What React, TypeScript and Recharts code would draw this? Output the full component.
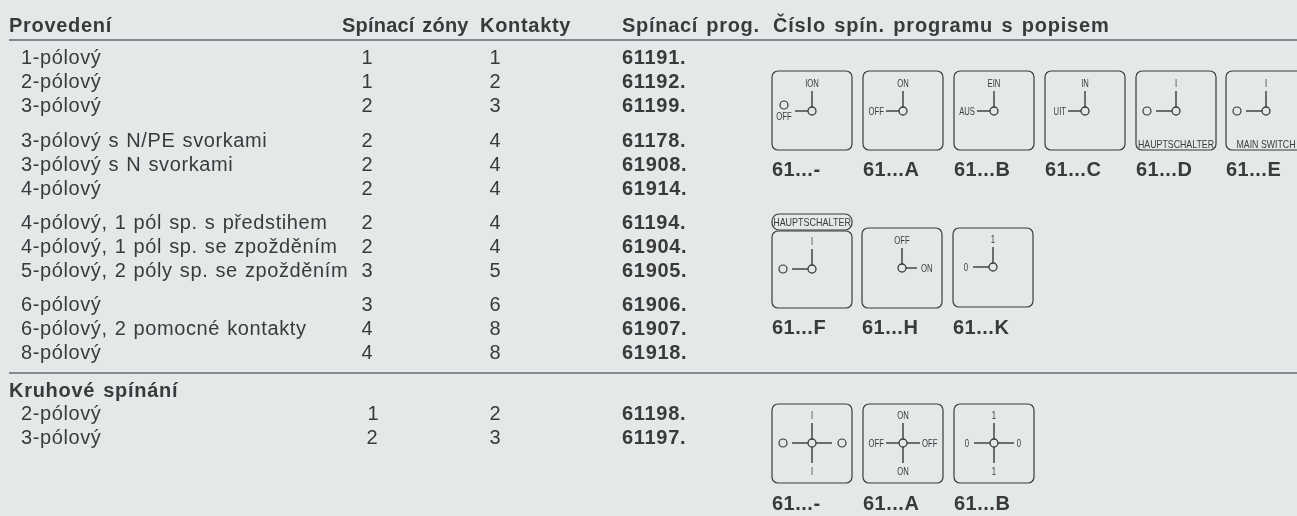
import React from "react";
import { ScatterChart, Scatter, XAxis, YAxis, ReferenceLine } from "recharts";

const W = 1297;
const H = 516;
const BG = "#e3e9e9";
const INK = "#3a3a3c";
const FONT = "'Liberation Sans', Arial, sans-serif";

const headers = ["Provedení", "Spínací zóny", "Kontakty", "Spínací prog.", "Číslo spín. programu s popisem"];
const headerX = [9, 342, 480, 622, 773];
const headerSpacing = [0.7, 0.2, 0.7, 0.7, 0.8];

const names = [
  "1-pólový", "2-pólový", "3-pólový",
  "3-pólový s N/PE svorkami", "3-pólový s N svorkami", "4-pólový",
  "4-pólový, 1 pól sp. s předstihem", "4-pólový, 1 pól sp. se zpožděním", "5-pólový, 2 póly sp. se zpožděním",
  "6-pólový", "6-pólový, 2 pomocné kontakty", "8-pólový",
  "2-pólový", "3-pólový",
];
const zones = [1, 1, 2, 2, 2, 2, 2, 2, 3, 3, 4, 4, 1, 2];
const contacts = [1, 2, 3, 4, 4, 4, 4, 4, 5, 6, 8, 8, 2, 3];
const programs = [
  "61191.", "61192.", "61199.", "61178.", "61908.", "61914.", "61194.",
  "61904.", "61905.", "61906.", "61907.", "61918.", "61198.", "61197.",
];
const rowLines = [57, 81, 105, 140, 164, 188, 222, 246, 270, 304, 328, 352, 413, 437];
const zoneColumn = [367, 367, 367, 367, 367, 367, 367, 367, 367, 367, 367, 367, 373, 372];

const captions = ["61...-", "61...A", "61...B", "61...C", "61...D", "61...E", "61...F", "61...H", "61...K", "61...-", "61...A", "61...B"];
const hubX = [812, 903, 994, 1085, 1176, 1266, 812, 902, 993, 812, 903, 994];
const hubY = [111, 111, 111, 111, 111, 111, 269, 268, 267, 443, 443, 443];
const boxTop = [71, 71, 71, 71, 71, 71, 231, 228, 228, 404, 404, 404];
const boxBottom = [150, 150, 150, 150, 150, 150, 308, 308, 307, 483, 483, 483];
const captionY = [169, 169, 169, 169, 169, 169, 327, 327, 327, 503, 503, 503];
const topLabels = ["ION", "ON", "EIN", "IN", "I", "I", "I", "OFF", "1", "I", "ON", "1"];
const leftLabels = ["OFF*", "OFF", "AUS", "UIT", "O", "O", "O", "", "0", "O", "OFF", "0"];
const rightLabels = ["", "", "", "", "", "", "", "ON", "", "O", "OFF", "0"];
const bottomLabels = ["", "", "", "", "", "", "", "", "", "I", "ON", "1"];
const footLabels = ["", "", "", "", "HAUPTSCHALTER", "MAIN SWITCH", "", "", "", "", "", ""];
const pillLabels = ["", "", "", "", "", "", "HAUPTSCHALTER", "", "", "", "", ""];

const headerData = headers.map((label, i) => ({ x: headerX[i], y: 25, label, spacing: headerSpacing[i] }));
const sectionData = [{ x: 9, y: 390, label: "Kruhové spínání" }];
const nameData = names.map((label, i) => ({ x: 21, y: rowLines[i], label }));
const zoneData = zones.map((v, i) => ({ x: zoneColumn[i], y: rowLines[i], label: String(v) }));
const contactData = contacts.map((v, i) => ({ x: 495, y: rowLines[i], label: String(v) }));
const programData = programs.map((label, i) => ({ x: 622, y: rowLines[i], label }));
const iconData = captions.map((caption, i) => ({
  x: hubX[i],
  y: hubY[i],
  caption,
  top: topLabels[i],
  left: leftLabels[i],
  right: rightLabels[i],
  bottom: bottomLabels[i],
  foot: footLabels[i],
  pill: pillLabels[i],
  boxTop: boxTop[i],
  boxBottom: boxBottom[i],
  captionY: captionY[i],
}));

const textShape = (size: number, weight: number, anchor: string, spacing: number, wordSpacing: number) => (p: any) => (
  <text
    x={p.cx}
    y={p.cy}
    dy="0.36em"
    textAnchor={anchor as any}
    fontFamily={FONT}
    fontSize={size}
    fontWeight={weight}
    letterSpacing={p.payload.spacing ?? spacing}
    wordSpacing={wordSpacing}
    fill={INK}
  >
    {p.payload.label}
  </text>
);

const tiny = (x: number, y: number, s: string, anchor = "middle", size = 11, sx = 0.7) => (
  <text
    transform={`translate(${x} ${y}) scale(${sx} 1)`}
    dy="0.36em"
    textAnchor={anchor as any}
    fontFamily={FONT}
    fontSize={size}
    fill={INK}
  >
    {s}
  </text>
);

const IconShape = (p: any) => {
  const d = p.payload;
  const { cx, cy } = p;
  const bx = cx - 40;
  const stroke = { stroke: INK, strokeWidth: 1.2, fill: "none" };
  const hw = 1.4;
  const cross = d.bottom !== "";
  const hasCircle = d.left === "O" || d.left === "OFF*";
  const isWord = d.left !== "" && !hasCircle && d.left !== "0";
  const leftEnd = d.left === "O" || d.left === "0" ? cx - 20 : cx - 17;
  return (
    <g>
      {d.pill ? (
        <g>
          <rect x={bx} y={d.boxTop - 17} width={80} height={16} rx={7} {...stroke} />
          {tiny(cx, d.boxTop - 9, d.pill, "middle", 10, 0.9)}
        </g>
      ) : null}
      <rect x={bx} y={d.boxTop} width={80} height={d.boxBottom - d.boxTop} rx={6} {...stroke} />
      <line x1={cx} y1={cy - 20} x2={cx} y2={cy} stroke={INK} strokeWidth={hw} />
      {d.left ? <line x1={leftEnd} y1={cy} x2={cx} y2={cy} stroke={INK} strokeWidth={hw} /> : null}
      {d.right ? <line x1={cx} y1={cy} x2={cx + (d.right === "ON" ? 15 : d.right === "OFF" ? 17 : 20)} y2={cy} stroke={INK} strokeWidth={hw} /> : null}
      {cross ? <line x1={cx} y1={cy} x2={cx} y2={cy + 20} stroke={INK} strokeWidth={hw} /> : null}
      <circle cx={cx} cy={cy} r={4} fill={BG} stroke={INK} strokeWidth={1.3} />
      {tiny(cx, cy - 28, d.top)}
      {d.left === "O" ? <circle cx={cx - 29} cy={cy} r={4} {...stroke} /> : null}
      {d.left === "OFF*" ? (
        <g>
          <circle cx={cx - 28} cy={cy - 6} r={4} {...stroke} />
          {tiny(cx - 28, cy + 5, "OFF")}
        </g>
      ) : null}
      {isWord ? tiny(cx - 19, cy, d.left, "end") : null}
      {d.left === "0" ? tiny(cx - 27, cy, d.left) : null}
      {d.right === "O" ? <circle cx={cx + 30} cy={cy} r={4} {...stroke} /> : null}
      {d.right === "ON" || d.right === "OFF" ? tiny(cx + 19, cy, d.right, "start") : null}
      {d.right === "0" ? tiny(cx + 25, cy, d.right) : null}
      {cross ? tiny(cx, cy + 28, d.bottom) : null}
      {d.foot ? tiny(cx, d.boxBottom - 6, d.foot, "middle", 10, 0.88) : null}
      <text x={bx} y={d.captionY} dy="0.36em" fontFamily={FONT} fontSize={20} fontWeight={700} letterSpacing={0.5} fill={INK}>
        {d.caption}
      </text>
    </g>
  );
};

export default function App() {
  return (
    <div style={{ position: "absolute", left: 0, top: 0, width: W, height: H, background: BG, overflow: "hidden" }}>
      <div style={{ filter: "blur(0.3px)" }}>
        <ScatterChart width={W} height={H} margin={{ top: 0, right: 0, bottom: 0, left: 0 }}>
          <XAxis type="number" dataKey="x" domain={[0, W]} hide allowDataOverflow />
          <YAxis type="number" dataKey="y" domain={[0, H]} reversed hide allowDataOverflow width={0} />
          <ReferenceLine segment={[{ x: 9, y: 40 }, { x: W, y: 40 }]} stroke="#666a6c" strokeWidth={1.5} />
          <ReferenceLine segment={[{ x: 9, y: 373 }, { x: W, y: 373 }]} stroke="#666a6c" strokeWidth={1.5} />
          <Scatter data={headerData} isAnimationActive={false} shape={textShape(20, 700, "start", 0.7, 2)} />
          <Scatter data={sectionData} isAnimationActive={false} shape={textShape(20, 700, "start", 0.7, 2)} />
          <Scatter data={nameData} isAnimationActive={false} shape={textShape(20, 400, "start", 0.6, 1)} />
          <Scatter data={zoneData} isAnimationActive={false} shape={textShape(20, 400, "middle", 0, 0)} />
          <Scatter data={contactData} isAnimationActive={false} shape={textShape(20, 400, "middle", 0, 0)} />
          <Scatter data={programData} isAnimationActive={false} shape={textShape(20, 700, "start", 0.7, 0)} />
          <Scatter data={iconData} isAnimationActive={false} shape={IconShape} />
        </ScatterChart>
      </div>
    </div>
  );
}
